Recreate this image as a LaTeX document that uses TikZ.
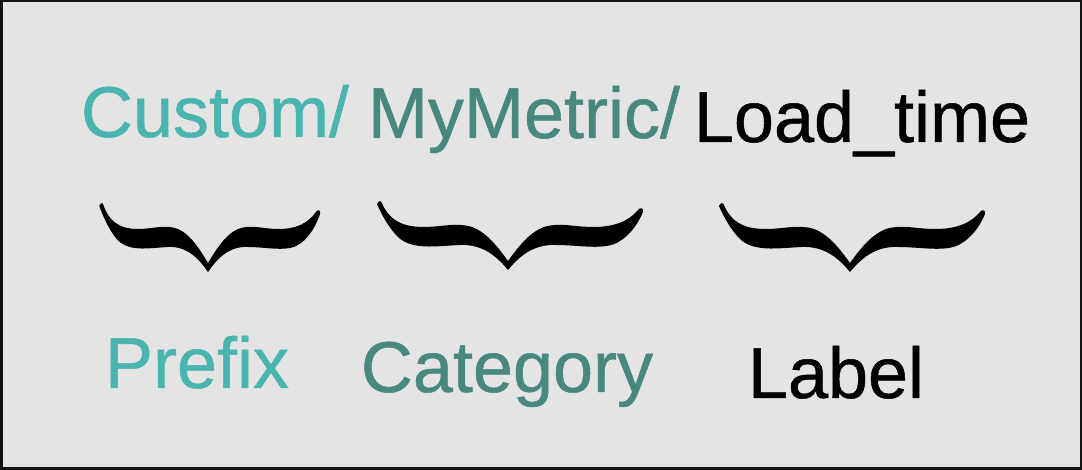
\documentclass[tikz,border=0pt]{standalone}
\usepackage{fontspec}
\setmainfont{Liberation Sans}
\newfontfamily\heavysans{Liberation Sans}[FakeBold=0.7]
\definecolor{paper}{RGB}{228,228,228}
\definecolor{frame}{RGB}{18,18,18}
\definecolor{tealA}{RGB}{74,180,174}
\definecolor{tealB}{RGB}{72,136,126}
\begin{document}
\begin{tikzpicture}[x=1pt,y=1pt,word/.style={font=\heavysans\fontsize{72}{72}\selectfont,inner sep=0pt,anchor=base},brace/.pic={\fill[black] (0,0) .. controls (-10,12) and (-24,26) .. (-48,25) .. controls (-72,24) and (-98,19) .. (-112,35) .. controls (-121,45) and (-127,57) .. (-131,66) .. controls (-130,69) and (-127,70) .. (-126,67) .. controls (-120,52) and (-108,43) .. (-85,43) .. controls (-65,43) and (-52,48) .. (-36,43) .. controls (-20,37) and (-8,20) .. (0,9) .. controls (8,20) and (20,37) .. (36,43) .. controls (52,48) and (65,43) .. (85,43) .. controls (105,43) and (120,48) .. (130,60) .. controls (132,63) and (136,62) .. (135,58) .. controls (130,46) and (122,35) .. (112,29) .. controls (98,19) and (72,25) .. (48,25) .. controls (24,26) and (10,12) .. (0,0) -- cycle;}]
\useasboundingbox (0,0) rectangle (1082,470);
\draw[fill=paper,draw=frame,line width=5pt] (0,0) rectangle (1082,470);
% top row: the metric name
\node[word,text=tealA] (custom) at (215,333) {Custom/};
\node[word,text=tealB] (mymetric) at (524,332) {MyMetric/};
\node[word,text=black] (loadtime) at (862,328) {Load\_time};
% braces
\pic[xscale=.83] (bracea) at (208,198) {brace};
\pic (braceb) at (508,200) {brace};
\pic (bracec) at (850,198) {brace};
% bottom row: the parts
\node[word,text=tealA] (prefix) at (197,82) {Prefix};
\node[word,text=tealB] (category) at (507,78) {Category};
\node[word,text=black] (label) at (836,72) {Label};
\end{tikzpicture}
\end{document}
